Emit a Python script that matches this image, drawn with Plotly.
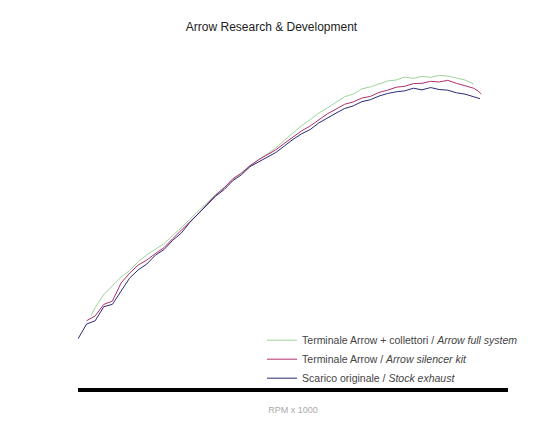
import plotly.graph_objects as go

# RPM x 1000 and power readings per exhaust
rpm_stock = [2.0, 2.2, 2.4, 2.6, 2.8, 3.0, 3.2, 3.4, 3.6, 3.8, 4.0, 4.2, 4.4, 4.6, 4.8,
             5.0, 5.2, 5.4, 5.6, 5.8, 6.0, 6.2, 6.4, 6.6, 6.8, 7.0, 7.2, 7.4, 7.6, 7.8,
             8.0, 8.2, 8.4, 8.6, 8.8, 9.0, 9.2, 9.4, 9.6, 9.8, 10.0, 10.2, 10.4, 10.6,
             10.8, 11.0, 11.2, 11.35]
pwr_stock = [15.0, 19.5, 20.5, 24.8, 25.5, 29.5, 33.5, 36.0, 37.8, 40.5, 42.2, 45.0, 47.2,
             50.5, 53.0, 55.8, 58.5, 60.5, 63.2, 65.0, 67.5, 69.0, 70.5, 71.8, 73.8, 75.8,
             77.5, 78.8, 80.8, 82.4, 83.8, 85.2, 86.0, 87.3, 87.9, 89.0, 89.8, 90.3, 90.6,
             91.4, 90.9, 91.6, 91.0, 90.8, 90.0, 89.6, 88.8, 88.2]

rpm_arrow = [2.2, 2.4, 2.6, 2.8, 3.0, 3.2, 3.4, 3.6, 3.8, 4.0, 4.2, 4.4, 4.6, 4.8,
             5.0, 5.2, 5.4, 5.6, 5.8, 6.0, 6.2, 6.4, 6.6, 6.8, 7.0, 7.2, 7.4, 7.6, 7.8,
             8.0, 8.2, 8.4, 8.6, 8.8, 9.0, 9.2, 9.4, 9.6, 9.8, 10.0, 10.2, 10.4, 10.6,
             10.8, 11.0, 11.2, 11.3, 11.38]
pwr_arrow = [20.5, 22.0, 25.5, 26.5, 32.0, 35.0, 37.5, 39.0, 41.0, 42.8, 45.5, 48.0, 50.8,
             53.2, 56.0, 58.8, 61.0, 63.8, 65.5, 67.8, 69.6, 71.0, 72.6, 74.6, 76.5, 78.4,
             79.9, 81.8, 83.6, 85.0, 86.5, 87.2, 88.4, 88.9, 90.1, 90.8, 91.7, 92.0, 92.8,
             92.9, 93.5, 93.3, 93.8, 92.9, 92.2, 91.4, 90.6, 89.6]

rpm_full = [2.3, 2.4, 2.6, 2.8, 3.0, 3.2, 3.4, 3.6, 3.8, 4.0, 4.2, 4.4, 4.6, 4.8,
            5.0, 5.2, 5.4, 5.6, 5.8, 6.0, 6.2, 6.4, 6.6, 6.8, 7.0, 7.2, 7.4, 7.6, 7.8,
            8.0, 8.2, 8.4, 8.6, 8.8, 9.0, 9.2, 9.4, 9.6, 9.8, 10.0, 10.2, 10.4, 10.6,
            10.8, 11.0, 11.2]
pwr_full = [22.0, 24.5, 28.5, 31.0, 33.8, 35.8, 38.5, 40.6, 42.2, 44.0, 46.5, 48.8, 51.5,
            54.0, 56.8, 59.0, 61.2, 63.5, 65.6, 67.5, 69.6, 71.3, 73.2, 75.5, 77.8, 80.0,
            81.8, 83.8, 85.4, 87.0, 88.8, 89.6, 91.2, 91.8, 92.6, 93.6, 93.9, 94.8, 94.4,
            95.0, 94.7, 95.3, 95.1, 94.6, 93.9, 92.7]

fig = go.Figure()
fig.add_trace(go.Scatter(
    x=rpm_full, y=pwr_full, mode="lines",
    name="Terminale Arrow + collettori / <i>Arrow full system</i>",
    line=dict(color="#9ed49a", width=1)
))
fig.add_trace(go.Scatter(
    x=rpm_arrow, y=pwr_arrow, mode="lines",
    name="Terminale Arrow / <i>Arrow silencer kit</i>",
    line=dict(color="#b0306a", width=1)
))
fig.add_trace(go.Scatter(
    x=rpm_stock, y=pwr_stock, mode="lines",
    name="Scarico originale / <i>Stock exhaust</i>",
    line=dict(color="#2a2a78", width=1)
))

fig.update_layout(
    width=527, height=429,
    margin=dict(l=70, r=25, t=52, b=49),
    paper_bgcolor="white", plot_bgcolor="white",
    font=dict(family="Liberation Sans, Arial, sans-serif", color="#333"),
    title=dict(text="Arrow Research & Development", x=0.5, xanchor="center",
               y=1 - 19 / 429, yanchor="middle", font=dict(size=12, color="#222")),
    showlegend=True,
    legend=dict(x=0.428, xanchor="left", y=0.19, yanchor="top",
                bgcolor="rgba(0,0,0,0)", font=dict(size=10.5, color="#444"),
                itemwidth=30, tracegroupgap=0),
)
fig.update_xaxes(range=[2, 12], showgrid=False, zeroline=False, showticklabels=False,
                 ticks="", showline=True, linecolor="black", linewidth=4,
                 title=dict(text="RPM x 1000", font=dict(size=9, color="#aaa"), standoff=17))
fig.update_yaxes(range=[0, 100], showgrid=False, zeroline=False, showticklabels=False,
                 ticks="", showline=False)

fig.write_html("out.html")
